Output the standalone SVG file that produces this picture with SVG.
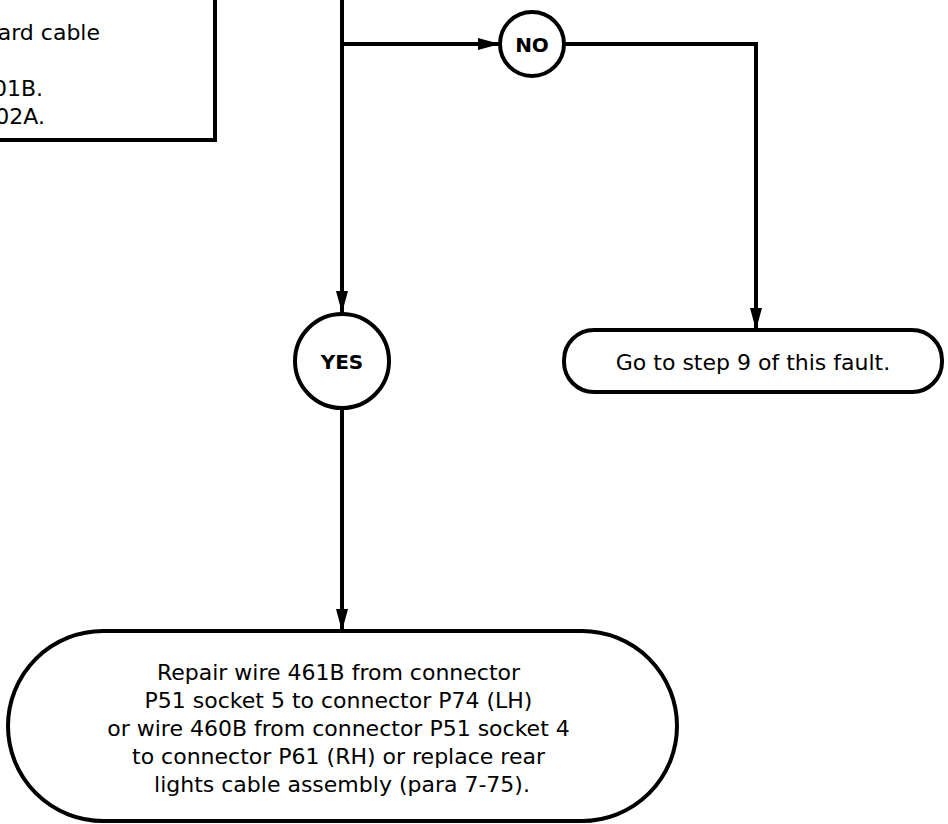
<svg xmlns="http://www.w3.org/2000/svg" width="948" height="824" viewBox="0 0 948 824">
  <style>
    .shape { fill: #ffffff; stroke: #000000; stroke-width: 4; }
    .conn { fill: none; stroke: #000000; stroke-width: 4; }
    .txt { font-family: "DejaVu Sans", Verdana, sans-serif; font-size: 22px; fill: #000000; }
    .lbl { font-family: "DejaVu Sans", Verdana, sans-serif; font-size: 20px; font-weight: bold; fill: #000000; text-anchor: middle; }
  </style>
  <defs>
    <marker id="arrow" markerUnits="userSpaceOnUse" markerWidth="22" markerHeight="12" refX="22" refY="6" orient="auto">
      <path d="M0,0 L22,6 L0,12 Z" fill="#000000"/>
    </marker>
  </defs>
  <rect width="948" height="824" fill="#ffffff"/>

  <g id="connectors">
    <path class="conn" d="M342,-5 L342,313" marker-end="url(#arrow)"/>
    <path class="conn" d="M342,44 L500,44" marker-end="url(#arrow)"/>
    <path class="conn" d="M565,44 L756,44 L756,330" marker-end="url(#arrow)"/>
    <path class="conn" d="M342,409 L342,631" marker-end="url(#arrow)"/>
  </g>

  <g id="node-check">
    <rect class="shape" x="-300" y="-100" width="515" height="240"/>
    <text class="txt" x="100" y="40" text-anchor="end">oard cable</text>
    <text class="txt" x="43" y="96" text-anchor="end">01B.</text>
    <text class="txt" x="45" y="124" text-anchor="end">02A.</text>
  </g>

  <g id="node-no">
    <circle class="shape" cx="532" cy="44" r="32"/>
    <text class="lbl" x="532" y="52">NO</text>
  </g>

  <g id="node-yes">
    <circle class="shape" cx="342" cy="361" r="47"/>
    <text class="lbl" x="342" y="369">YES</text>
  </g>

  <g id="node-step9">
    <rect class="shape" x="564" y="330" width="378" height="62" rx="30" ry="30"/>
    <text class="txt" x="753" y="370" text-anchor="middle">Go to step 9 of this fault.</text>
  </g>

  <g id="node-repair">
    <rect class="shape" x="8" y="631" width="669" height="190" rx="95" ry="95"/>
    <text class="txt" text-anchor="middle">
      <tspan x="342" y="680">Repair wire 461B from connector</tspan>
      <tspan x="342" y="708">P51 socket 5 to connector P74 (LH)</tspan>
      <tspan x="342" y="736">or wire 460B from connector P51 socket 4</tspan>
      <tspan x="342" y="764">to connector P61 (RH) or replace rear</tspan>
      <tspan x="342" y="792">lights cable assembly (para 7-75).</tspan>
    </text>
  </g>
</svg>
